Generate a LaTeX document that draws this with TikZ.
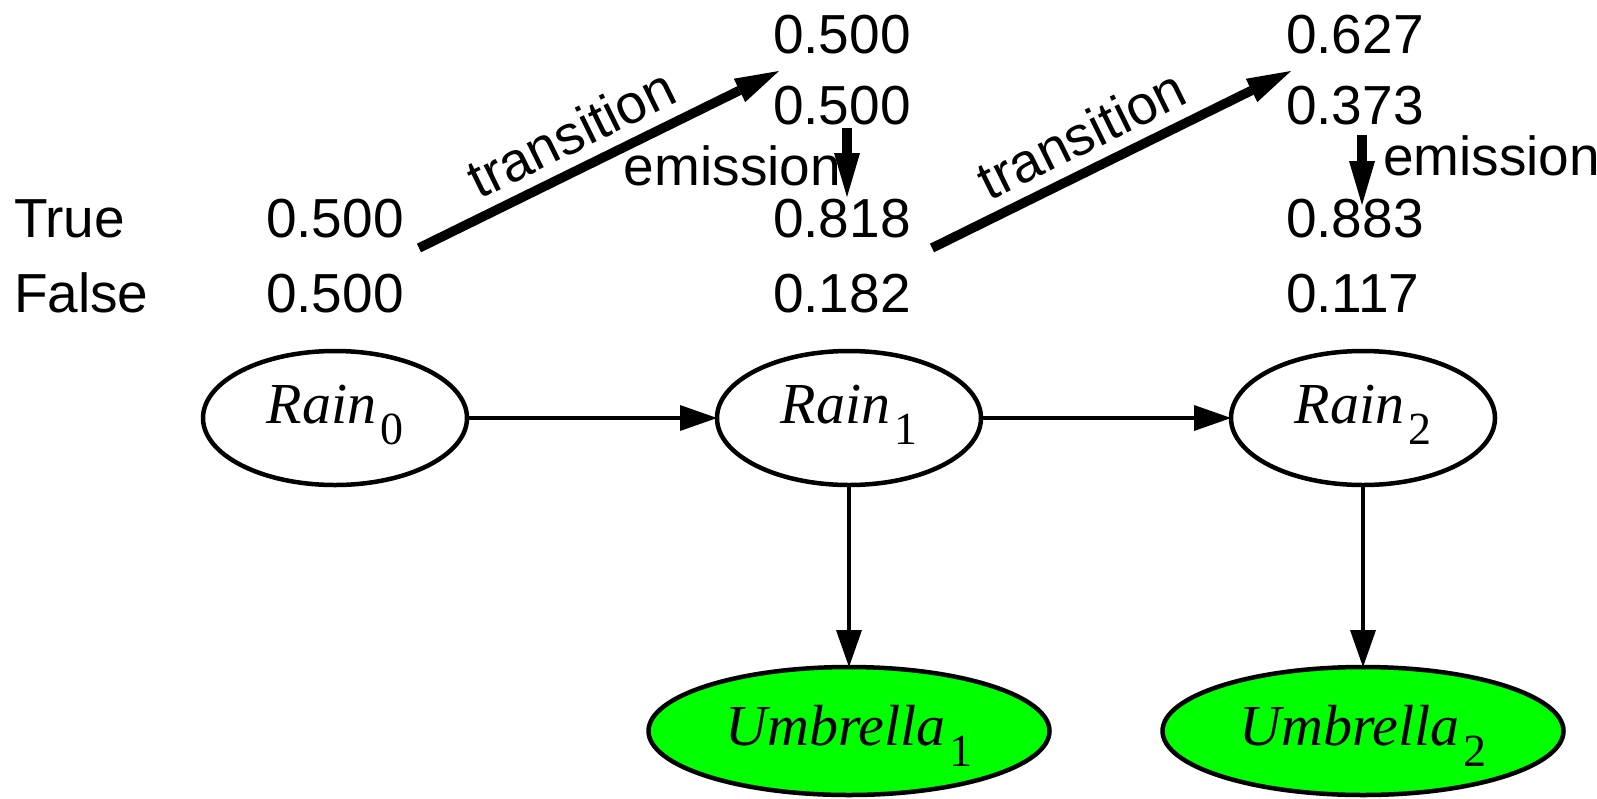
\documentclass[tikz,border=0pt]{standalone}
\usepackage{fontspec}
\setmainfont{Liberation Sans}
\newfontfamily\labelserif{Liberation Serif}
\usetikzlibrary{arrows.meta,shapes.geometric}
\definecolor{obsgreen}{RGB}{0,255,0}
% lowered upright index after an italic variable name
\newcommand\stsub[1]{\hspace{4pt}\raisebox{-21pt}{\upshape\fontsize{46}{46}\selectfont #1}}
\begin{document}
\begin{tikzpicture}[x=1pt,y=-1pt,
  every node/.style={inner sep=0pt, outer sep=0pt},
  lab/.style={font=\fontsize{55}{60}\selectfont},
  num/.style={lab, anchor=base west},
  state/.style={ellipse, draw, line width=4.5pt, minimum width=264pt, minimum height=134pt,
    font=\labelserif\fontsize{58}{60}\selectfont\itshape, text height=30pt, text depth=20pt},
  obs/.style={state, fill=obsgreen, minimum width=401pt, minimum height=128pt,
    text height=40pt, text depth=12pt},
  link/.style={line width=4.5pt, -{Triangle[length=37pt,width=26pt,line width=0pt]}},
  flow/.style={line width=9.5pt, -{Triangle[length=44pt,width=26pt,line width=0pt]}}
]
\useasboundingbox (0,0) rectangle (1597,798);

% row labels
\node[num] (true)  at (14,237) {True};
\node[num] (false) at (14,312) {False};

% belief tables
\node[num] (p0t) at (266,237) {0.500};
\node[num] (p0f) at (266,312) {0.500};

\node[num] (q1t) at (773,53)  {0.500};
\node[num] (q1f) at (773,124) {0.500};
\node[num] (p1t) at (773,237) {0.818};
\node[num] (p1f) at (773,312) {0.182};

\node[num] (q2t) at (1286,53)  {0.627};
\node[num] (q2f) at (1286,124) {0.373};
\node[num] (p2t) at (1286,237) {0.883};
\node[num] (p2f) at (1286,312) {0.117};

% update steps
\coordinate (tr0s) at (419,248);
\coordinate (tr0e) at (779,71);
\coordinate (tr1s) at (932,248);
\coordinate (tr1e) at (1291,71);
\coordinate (em1s) at (847,128);
\coordinate (em1e) at (847,197);
\coordinate (em2s) at (1362,135);
\coordinate (em2e) at (1362,205);

\draw[flow] (tr0s) -- node[lab, pos=0.466, sloped, anchor=south, inner sep=16pt] {transition} (tr0e);
\draw[flow] (tr1s) -- node[lab, pos=0.46, sloped, anchor=south, inner sep=16pt] {transition} (tr1e);
\draw[flow] (em1s) -- (em1e);
\draw[flow] (em2s) -- (em2e);
\node[lab, anchor=base east] (em1l) at (841,185) {emission};
\node[lab, anchor=base west] (em2l) at (1383,175) {emission};

% network
\node[state] (r0) at (335,418) {Rain\stsub{0}};
\node[state] (r1) at (849,418) {Rain\stsub{1}};
\node[state] (r2) at (1363,418) {Rain\stsub{2}};
\node[obs] (u1) at (849,731) {Umbrella\stsub{1}};
\node[obs] (u2) at (1363,731) {Umbrella\stsub{2}};

\draw[link] (r0) -- (r1);
\draw[link] (r1) -- (r2);
\draw[link] (r1) -- (u1);
\draw[link] (r2) -- (u2);
\end{tikzpicture}
\end{document}
